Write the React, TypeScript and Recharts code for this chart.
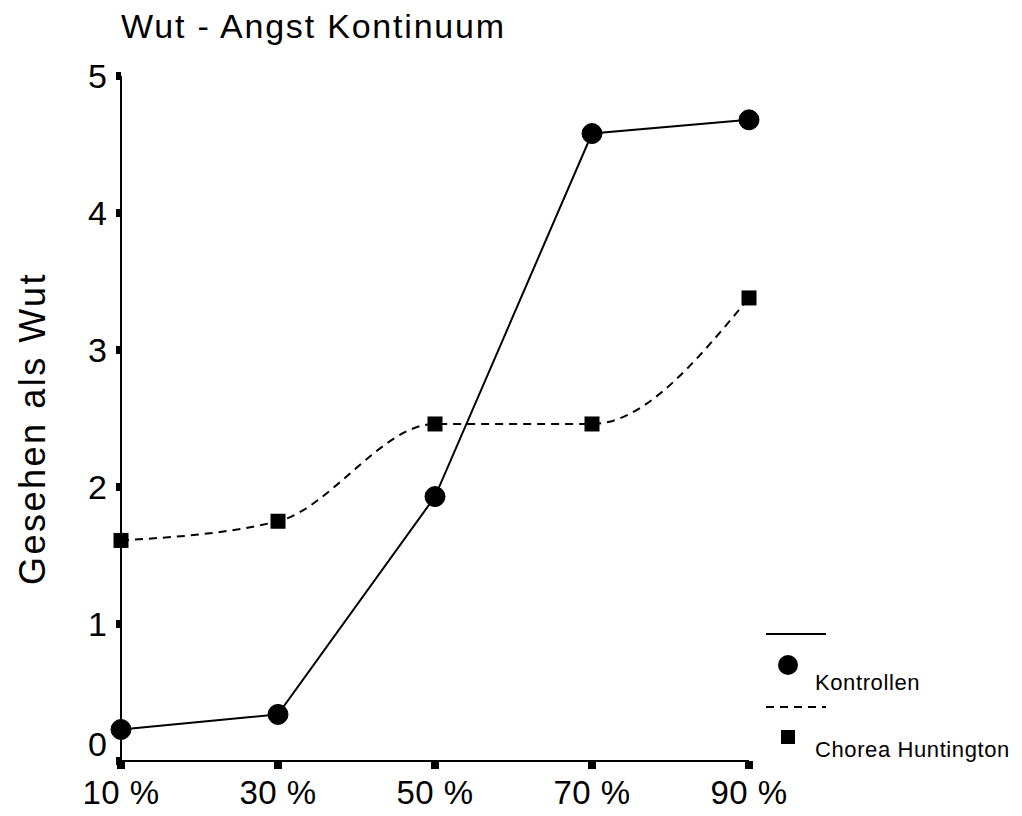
import React from "react";
import { LineChart, Line, XAxis, YAxis } from "recharts";

const percents = [10, 30, 50, 70, 90];
const kontrollen = [0.23, 0.34, 1.93, 4.58, 4.68];
const chorea = [1.61, 1.75, 2.46, 2.46, 3.38];
const yTicks = [0, 1, 2, 3, 4, 5];

const data = percents.map((p, i) => ({
  p,
  kontrollen: kontrollen[i],
  chorea: chorea[i],
}));

const FONT = '"Liberation Sans", Arial, sans-serif';

function SquareDot(props: any) {
  const { cx, cy } = props;
  if (cx == null || cy == null) return null;
  return <rect x={cx - 7.5} y={cy - 7.5} width={15} height={15} fill="#000" />;
}

function YTick(props: any) {
  const { x, y, payload } = props;
  const lift = payload.value === 0 ? -17 : 0;
  return (
    <text x={x} y={y + lift} dy="0.36em" textAnchor="end" fontSize={34} fontFamily={FONT} fill="#000" letterSpacing={1}>
      {payload.value}
    </text>
  );
}

function XTick(props: any) {
  const { x, y, payload } = props;
  return (
    <text x={x} y={y} dy="0.71em" textAnchor="middle" fontSize={33} fontFamily={FONT} fill="#000" letterSpacing={0.5}>
      {`${payload.value} %`}
    </text>
  );
}

function YLabel(props: any) {
  const { viewBox } = props;
  const cx = 32;
  const cy = viewBox.y + viewBox.height / 2 + 10;
  return (
    <text x={cx} y={cy} transform={`rotate(-90, ${cx}, ${cy})`} textAnchor="middle" dominantBaseline="central" fontSize={36} fontFamily={FONT} fill="#000" letterSpacing={2.5}>
      Gesehen als Wut
    </text>
  );
}

// legend drawn by hand, like the original export
function LegendBox() {
  return (
    <svg width={264} height={150} style={{ position: "absolute", left: 758, top: 620, overflow: "visible" }}>
      <line x1={8} y1={14} x2={68} y2={14} stroke="#000" strokeWidth={2} />
      <circle cx={30} cy={45} r={10} fill="#000" />
      <text x={57} y={70} fontSize={22} fontFamily={FONT} fill="#000" letterSpacing={0.6}>Kontrollen</text>
      <line x1={8} y1={87} x2={68} y2={87} stroke="#000" strokeWidth={2} strokeDasharray="8 6" />
      <rect x={23} y={110} width={14} height={14} fill="#000" />
      <text x={57} y={137} fontSize={22} fontFamily={FONT} fill="#000" letterSpacing={0.6}>Chorea Huntington</text>
    </svg>
  );
}

export default function App() {
  return (
    <div style={{ position: "absolute", left: 0, top: 0, width: 1022, height: 816, background: "#fff" }}>
      <div
        style={{
          position: "absolute",
          left: 121,
          top: 6,
          fontFamily: FONT,
          fontSize: 34,
          letterSpacing: 1.8,
          lineHeight: "40px",
          color: "#000",
        }}
      >
        Wut - Angst Kontinuum
      </div>
      <LineChart
        width={1022}
        height={816}
        data={data}
        margin={{ top: 76, right: 273, bottom: 5, left: 61 }}
      >
        <XAxis
          dataKey="p"
          type="number"
          domain={[10, 90]}
          ticks={percents}
          height={50}
          tickSize={8}
          tickMargin={12}
          axisLine={{ stroke: "#000", strokeWidth: 2 }}
          tickLine={{ stroke: "#000", strokeWidth: 8 }}
          tick={<XTick />}
        />
        <YAxis
          type="number"
          domain={[0, 5]}
          ticks={yTicks}
          width={60}
          tickSize={5}
          tickMargin={8}
          axisLine={{ stroke: "#000", strokeWidth: 2 }}
          tickLine={{ stroke: "#000", strokeWidth: 8 }}
          tick={<YTick />}
          label={<YLabel />}
        />
        <Line
          dataKey="kontrollen"
          type="linear"
          stroke="#000"
          strokeWidth={2}
          dot={{ r: 10, fill: "#000", stroke: "#000", strokeWidth: 1 }}
          isAnimationActive={false}
        />
        <Line
          dataKey="chorea"
          type="monotone"
          stroke="#000"
          strokeWidth={2}
          strokeDasharray="8 6"
          dot={<SquareDot />}
          isAnimationActive={false}
        />
      </LineChart>
      <LegendBox />
    </div>
  );
}
